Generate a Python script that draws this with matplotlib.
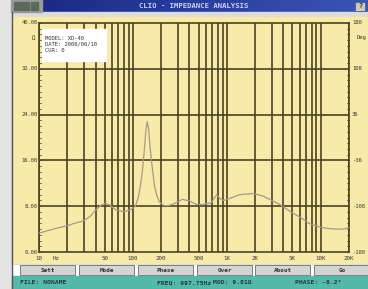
import numpy as np
import matplotlib
matplotlib.use('Agg')
import matplotlib.pyplot as plt
from matplotlib.patches import Rectangle

# impedance curve
freq = [10, 15, 20, 25, 29.5, 35, 40, 46, 51, 57, 65, 75, 83, 95, 106, 114,
        120, 126, 131, 137, 142, 147, 152, 160, 170, 180, 190, 200, 216, 240,
        280, 337, 400, 476, 560, 680, 778, 850, 924, 1100, 1300, 1510, 1930,
        2400, 2940, 3760, 4800, 6140, 7500, 9570, 12000, 14190, 17000, 20000]
imp = [3.3, 4.1, 4.6, 5.1, 5.4, 6.2, 7.3, 8.2, 8.5, 8.2, 7.4, 7.1, 7.1, 7.4, 8.0, 9.5,
       11.5, 14.0, 17.0, 21.0, 22.8, 21.5, 18.5, 15.0, 11.5, 9.8, 8.9, 8.4, 8.1, 8.1,
       8.5, 9.2, 8.9, 8.3, 8.3, 8.6, 10.0, 9.3, 9.0, 9.4, 9.9, 10.1, 10.2,
       9.8, 9.1, 8.2, 7.0, 6.0, 5.0, 4.4, 4.1, 4.0, 4.0, 4.2]

x_ticks = [10, 50, 100, 200, 500, 1000, 2000, 5000, 10000, 20000]
x_labels = ['10', '50', '100', '200', '500', '1K', '2K', '5K', '10K', '20K']
y_left = [0, 8, 16, 24, 32, 40]
y_right = ['-180', '-108', '-36', '36', '108', '180']
info_lines = ['MODEL: XD-40', 'DATE: 2006/06/10', 'CUR: 0']
buttons = ['Sett', 'Mode', 'Phase', 'Over', 'About', 'Go']

W, H = 368, 289
yellow = '#f8eaa8'
grid_c = '#4a4224'
txt_c = '#3a3a2a'
mono = 'DejaVu Sans Mono'

fig = plt.figure(figsize=(W / 100, H / 100), dpi=100)
fig.patch.set_facecolor('white')


def pixel_axes(z):
    a = fig.add_axes([0, 0, 1, 1])
    a.set_xlim(0, W)
    a.set_ylim(H, 0)
    a.axis('off')
    a.set_zorder(z)
    a.patch.set_alpha(0)
    return a


# window chrome, below the plot
bg = pixel_axes(0)
bg.add_patch(Rectangle((0, 0), 11, H, color='#e4e4e4'))
bg.add_patch(Rectangle((11, 12), 357, 252, color='#dcdcdc'))
bg.add_patch(Rectangle((13, 17), 355, 246, color=yellow))
bg.plot([11.5, 11.5], [12, H], color='#555555', lw=1)

# title bar
bg.add_patch(Rectangle((11, 0), 31, 12, color='#9a9a9a'))
for ix in [14, 22, 31]:
    bg.add_patch(Rectangle((ix, 2), 7, 8, color='#5a6a5a'))
grad = np.linspace(0, 1, 256).reshape(1, -1)
cmap = matplotlib.colors.LinearSegmentedColormap.from_list('tb', ['#1c2a86', '#3a55b4'])
bg.imshow(grad, cmap=cmap, extent=(42, 368, 12, 0), aspect='auto')
bg.set_xlim(0, W)
bg.set_ylim(H, 0)
bg.text(194, 6, 'CLIO - IMPEDANCE ANALYSIS', color='#c8d4ff', fontsize=5.2,
        family=mono, fontweight='bold', ha='center', va='center')
bg.add_patch(Rectangle((355, 2), 10, 9, color='#c8c8c8', ec='#555555', lw=0.5))
bg.text(360, 6.5, '?', fontsize=5, family=mono, fontweight='bold', ha='center', va='center',
        color='#333333')

# buttons
bx = [20, 79, 138, 197, 255, 314]
for x0, lab in zip(bx, buttons):
    bg.add_patch(Rectangle((x0, 265), 55, 10, color='#d4d4d4', ec='#6a6a6a', lw=0.6))
    bg.text(x0 + 28, 270, lab, fontsize=4.3, family=mono, fontweight='bold',
            ha='center', va='center', color='#333333')

# status bar
bg.add_patch(Rectangle((12, 276), 356, 13, color='#55b9aa'))
status = [(20, 'FILE: NONAME'), (157, 'FREQ: 997.75Hz'), (213, 'MOD: 9.01\u03a9'),
          (295, 'PHASE: -0.2\u00b0')]
for x0, s in status:
    bg.text(x0, 282.5, s, fontsize=4.6, family=mono, fontweight='bold',
            ha='left', va='center', color='#1d3a3a')

# main plot area
L, R, T, B = 39, 349, 23, 252
ax = fig.add_axes([L / W, 1 - B / H, (R - L) / W, (B - T) / H])
ax.set_zorder(1)
ax.set_facecolor(yellow)
ax.set_xscale('log')
ax.set_xlim(10, 20000)
ax.set_ylim(0, 40)

vlines = []
for dec in [10, 100, 1000, 10000]:
    for m in range(1, 10):
        if dec * m <= 20000:
            vlines.append(dec * m)
for v in vlines:
    ax.axvline(v, color=grid_c, lw=1.2, zorder=1)
for h in y_left[1:-1]:
    ax.axhline(h, color=grid_c, lw=1.2, zorder=1)

ax.plot(freq, imp, color='#a89a88', lw=0.9, zorder=3)

for sp in ax.spines.values():
    sp.set_color(grid_c)
    sp.set_linewidth(1.2)
ax.set_xticks([])
ax.set_yticks([])
ax.minorticks_off()

# overlay: labels, small ticks and info box
fg = pixel_axes(2)
for f, lab in zip(x_ticks, x_labels):
    px = L + (np.log10(f) - 1) / np.log10(2000) * (R - L)
    fg.text(px, 258, lab, fontsize=4.2, family=mono, ha='center', va='center', color=txt_c)
fg.text(56, 258, 'Hz', fontsize=4.2, family=mono, ha='center', va='center', color=txt_c)

for v, rl in zip(y_left, y_right):
    py = B - v / 40 * (B - T)
    fg.text(L - 1, py, f'{v:.2f}', fontsize=4.0, family=mono, ha='right', va='center',
            color=txt_c)
    fg.text(R + 3, py, rl, fontsize=4.0, family=mono, ha='left', va='center', color=txt_c)
for k in range(41):
    py = B - k / 40 * (B - T)
    fg.plot([L, L + 2], [py, py], color=grid_c, lw=0.5)
    fg.plot([R - 2, R], [py, py], color=grid_c, lw=0.5)
fg.text(33, 38, '\u03a9', fontsize=4.0, family=mono, ha='center', va='center', color=txt_c)
fg.text(357, 37, 'Deg', fontsize=4.0, family=mono, ha='left', va='center', color=txt_c)

fg.add_patch(Rectangle((42, 29), 64, 32, color='white'))
for i, s in enumerate(info_lines):
    fg.text(45, 38 + i * 6, s, fontsize=4.0, family=mono, ha='left', va='center',
            color='#333333')

fig.savefig('out.png', dpi=100)
